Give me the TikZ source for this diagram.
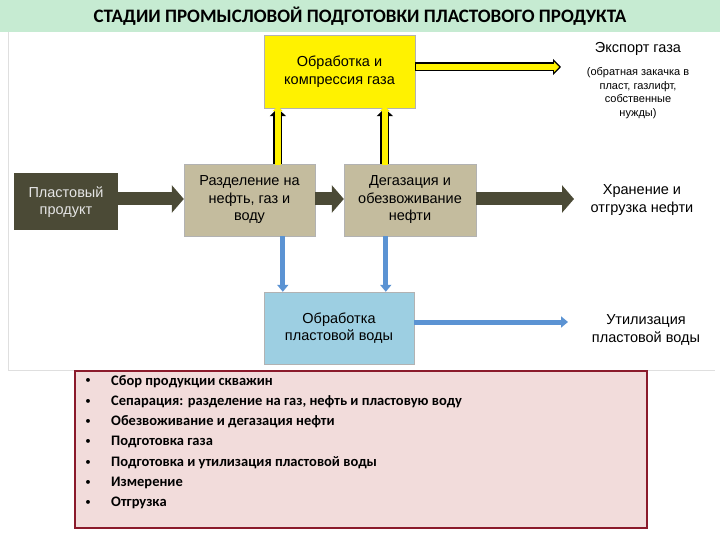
\documentclass[tikz,border=0pt]{standalone}
\usepackage{fontspec}
\setmainfont{Liberation Sans}
\newfontfamily\carl{Carlito}
\usetikzlibrary{arrows.meta,calc}
\definecolor{titlegreen}{HTML}{C6EBD2}
\definecolor{darkbox}{HTML}{4B4A36}
\definecolor{tanbox}{HTML}{C4BC9E}
\definecolor{bluebox}{HTML}{9DCFE2}
\definecolor{bluearr}{HTML}{5B93D3}
\definecolor{pinkbg}{HTML}{F2DCDB}
\definecolor{redline}{HTML}{8B1A2B}
\tikzset{
 box/.style={draw=gray!60,inner sep=2pt,align=center,font=\fontsize{14.5}{17.5}\selectfont},
 side/.style={align=center,font=\fontsize{14.5}{17.5}\selectfont},
 darkarr/.style={draw=darkbox,line width=13pt,-{Triangle[length=12pt,width=27pt]}},
 bluearrow/.style={draw=bluearr,line width=5pt,-{Triangle[length=7pt,width=11pt]}},
 yout/.style={draw=black,line width=9pt,-{Triangle[length=8pt,width=16pt]}},
 yin/.style={draw=yellow,line width=5.5pt,-{Triangle[length=5pt,width=10pt]}},
}
\begin{document}
\begin{tikzpicture}[x=1pt,y=-1pt]
\useasboundingbox (0,0) rectangle (720,540);
\fill[white] (0,0) rectangle (720,540);
\fill[titlegreen] (0,0) rectangle (720,32);
\node[font=\carl\bfseries\fontsize{19}{21}\selectfont] (title) at (360,16) {СТАДИИ ПРОМЫСЛОВОЙ ПОДГОТОВКИ ПЛАСТОВОГО ПРОДУКТА};
\draw[gray!25,line width=1pt] (8,32) -- (8,370) -- (715,370);
% boxes
\node[box,fill=yellow,minimum width=151pt,minimum height=73pt] (gas) at (339.5,71.5) {Обработка и\\компрессия газа};
\node[box,fill=tanbox,minimum width=131pt,minimum height=72pt] (sep) at (249.5,200) {Разделение на\\нефть, газ и\\воду};
\node[box,fill=tanbox,minimum width=132pt,minimum height=72pt] (deg) at (410,200) {Дегазация и\\обезвоживание\\нефти};
\node[box,fill=darkbox,draw=none,text=white!90!black,minimum width=104pt,minimum height=57pt] (prod) at (66,202) {Пластовый\\продукт};
\node[box,fill=bluebox,minimum width=150pt,minimum height=72pt] (wat) at (339,328) {Обработка\\пластовой воды};
% side texts
\node[side] (exp) at (638,49) {Экспорт газа};
\node[side,font=\fontsize{11}{13.5}\selectfont] (expn) at (638,93) {(обратная закачка в\\пласт, газлифт,\\собственные\\нужды)};
\node[side] (oil) at (642,200) {Хранение и\\отгрузка нефти};
\node[side] (util) at (646,330) {Утилизация\\пластовой воды};
% dark arrows
\coordinate (darky) at (0,199);
\draw[darkarr] (prod.east |- darky) -- (sep.west |- darky);
\draw[darkarr] (sep.east |- darky) -- (deg.west |- darky);
\coordinate (oilend) at (574,199);
\draw[darkarr] (deg.east |- oilend) -- (oilend);
% yellow arrows
\coordinate (y1a) at ([xshift=94pt]sep.north west);
\coordinate (y2a) at ([xshift=41pt]deg.north west);
\coordinate (y1b) at (y1a |- gas.south);
\coordinate (y2b) at (y2a |- gas.south);
\draw[yout] (y1a) -- (y1b); \draw[yin] ([yshift=-1.5pt]y1a) -- ([yshift=2pt]y1b);
\draw[yout] (y2a) -- (y2b); \draw[yin] ([yshift=-1.5pt]y2a) -- ([yshift=2pt]y2b);
\coordinate (expend) at (561,67);
\draw[yout] (gas.east |- expend) -- (expend);
\draw[yin] ([xshift=1pt]gas.east |- expend) -- ([xshift=-2pt]expend);
% blue arrows
\coordinate (b1a) at ([xshift=99pt]sep.south west);
\coordinate (b2a) at ([xshift=42pt]deg.south west);
\draw[bluearrow] (b1a) -- (b1a |- wat.north);
\draw[bluearrow] (b2a) -- (b2a |- wat.north);
\coordinate (utilend) at (568,322);
\draw[bluearrow] (wat.east |- utilend) -- (utilend);
% bullet list
\draw[fill=pinkbg,draw=redline,line width=1.2pt] (75,371) rectangle (647,528);
\foreach \t [count=\i] in {Сбор продукции скважин,Сепарация: разделение на газ{,} нефть и пластовую воду,Обезвоживание и дегазация нефти,Подготовка газа,Подготовка и утилизация пластовой воды,Измерение,Отгрузка}{
  \node[font=\carl\fontsize{11}{13}\selectfont] (bl\i) at (88,361+20.3*\i) {•};
  \node[anchor=west,font=\carl\bfseries\fontsize{14.5}{16}\selectfont,inner sep=0pt] (bt\i) at (111,361+20.3*\i) {\t};
}
\end{tikzpicture}
\end{document}
